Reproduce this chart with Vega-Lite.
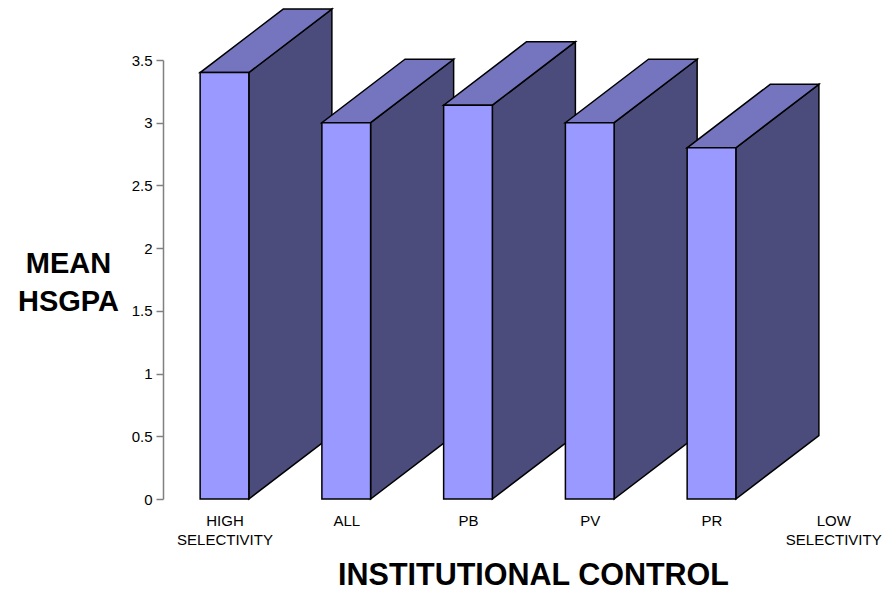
{
  "$schema": "https://vega.github.io/schema/vega-lite/v6.json",
  "autosize": {"type": "none"},
  "padding": {"left": 163, "top": 60, "right": 0, "bottom": 93},
  "width": 722,
  "height": 439,
  "background": "white",
  "config": {"view": {"stroke": null}, "font": "Liberation Sans"},
  "data": {"values": [
    {"group": "HIGH SELECTIVITY", "v": 3.40},
    {"group": "ALL", "v": 3.00},
    {"group": "PB", "v": 3.14},
    {"group": "PV", "v": 3.00},
    {"group": "PR", "v": 2.80}
  ]},
  "transform": [
    {"window": [{"op": "row_number", "as": "rn"}]},
    {"calculate": "datum.rn - 1", "as": "i"}
  ],
  "encoding": {
    "x": {"field": "x", "type": "quantitative",
      "scale": {"domain": [-0.505, 5.425], "nice": false, "zero": false},
      "axis": {"values": [0, 1, 2, 3, 4, 5], "grid": false, "domain": false, "ticks": false, "tickSize": 0,
        "labelExpr": "[['HIGH','SELECTIVITY'],'ALL','PB','PV','PR',['LOW','SELECTIVITY']][datum.value]",
        "labelFont": "Liberation Sans", "labelFontSize": 15, "labelColor": "#000000", "labelBaseline": "top",
        "labelLineHeight": 19, "labelPadding": 14, "labelFlush": false, "labelOverlap": false,
        "title": "INSTITUTIONAL CONTROL", "titleFont": "Liberation Sans", "titleFontSize": 30.5, "titleFontWeight": "bold",
        "titleColor": "#000000", "titleX": 370, "titleY": 85, "titleAlign": "center", "titleBaseline": "alphabetic"}},
    "y": {"field": "y", "type": "quantitative",
      "scale": {"domain": [0, 3.5], "nice": false},
      "axis": {"values": [0, 0.5, 1, 1.5, 2, 2.5, 3, 3.5], "format": "~g", "grid": false, "domainColor": "#808080", "domainWidth": 1.5,
        "tickColor": "#808080", "tickSize": 7, "tickWidth": 1.5, "labelPadding": 4,
        "labelFont": "Liberation Sans", "labelFontSize": 15, "labelColor": "#000000",
        "title": ["MEAN", "HSGPA"], "titleFont": "Liberation Sans", "titleFontSize": 29, "titleFontWeight": "bold",
        "titleColor": "#000000", "titleAngle": 0, "titleX": -95, "titleY": 212, "titleAlign": "center",
        "titleBaseline": "alphabetic", "titleLineHeight": 38.5}}
  },
  "layer": [
    {
      "transform": [
        {"calculate": "[0, 1]", "as": "t"},
        {"flatten": ["t"]},
        {"calculate": "datum.i + 0.2 + datum.t * 0.682", "as": "x"},
        {"calculate": "datum.v + datum.t * 0.506", "as": "y"},
        {"calculate": "datum.t * 0.506", "as": "y2"}
      ],
      "mark": {"type": "area", "orient": "vertical", "color": "#4c4c7c", "fill": "#4c4c7c", "stroke": "#000000", "strokeWidth": 1.5, "strokeJoin": "miter", "opacity": 1, "fillOpacity": 1},
      "encoding": {
        "y2": {"field": "y2"},
        "detail": {"field": "group"}
      }
    },
    {
      "transform": [
        {"calculate": "[0, 1]", "as": "t"},
        {"flatten": ["t"]},
        {"calculate": "datum.i - 0.2 + datum.t * 0.682", "as": "x"},
        {"calculate": "datum.i + 0.2 + datum.t * 0.682", "as": "x2"},
        {"calculate": "datum.v + datum.t * 0.506", "as": "y"}
      ],
      "mark": {"type": "area", "orient": "horizontal", "color": "#7575bf", "fill": "#7575bf", "stroke": "#000000", "strokeWidth": 1.5, "strokeJoin": "miter", "opacity": 1, "fillOpacity": 1},
      "encoding": {
        "x2": {"field": "x2"},
        "detail": {"field": "group"}
      }
    },
    {
      "transform": [
        {"calculate": "datum.i - 0.2", "as": "x"},
        {"calculate": "datum.i + 0.2", "as": "x2"},
        {"calculate": "datum.v", "as": "y"}
      ],
      "mark": {"type": "rect", "fill": "#9999ff", "stroke": "#000000", "strokeWidth": 1.5, "strokeJoin": "miter"},
      "encoding": {
        "x2": {"field": "x2"},
        "y2": {"datum": 0}
      }
    }
  ]
}
